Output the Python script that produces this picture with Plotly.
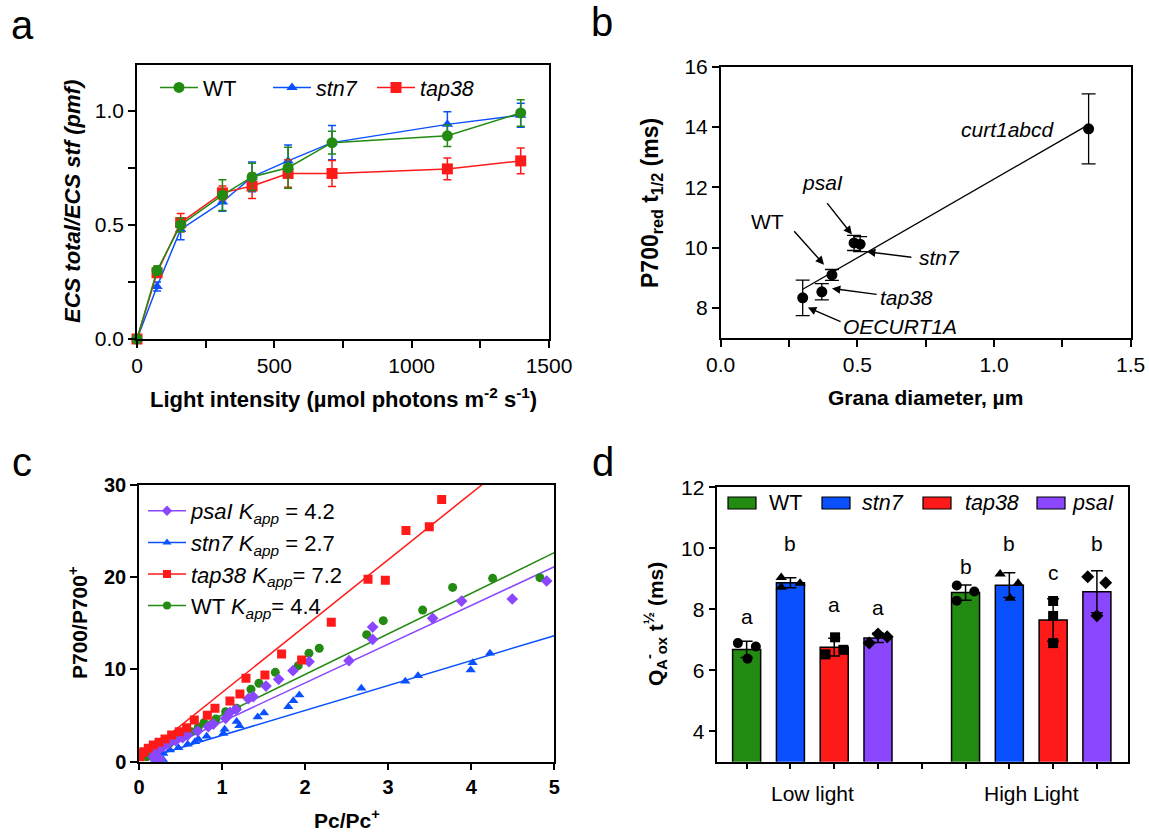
import numpy as np
import plotly.graph_objects as go

# ---------------- Panel a data ----------------
light = [0, 73, 159, 311, 419, 550, 710, 1130, 1397]
ecs_wt = [0, 0.30, 0.50, 0.63, 0.71, 0.75, 0.86, 0.89, 0.99]
ecs_wt_err = [0, 0.02, 0.03, 0.067, 0.06, 0.09, 0.05, 0.047, 0.058]
ecs_stn7 = [0, 0.23, 0.48, 0.60, 0.71, 0.78, 0.86, 0.94, 0.98]
ecs_stn7_err = [0, 0.02, 0.045, 0.04, 0.065, 0.07, 0.075, 0.055, 0.053]
ecs_tap38 = [0, 0.29, 0.51, 0.64, 0.67, 0.725, 0.725, 0.745, 0.78]
ecs_tap38_err = [0, 0.02, 0.04, 0.03, 0.055, 0.06, 0.057, 0.048, 0.056]

# ---------------- Panel b data ----------------
b_names = ["OECURT1A", "tap38", "WT", "psaI", "stn7", "curt1abcd"]
grana_diam = [0.30, 0.37, 0.407, 0.488, 0.51, 1.346]
p700_thalf = [8.34, 8.54, 9.10, 10.16, 10.12, 13.94]
p700_thalf_err = [0.59, 0.27, 0.18, 0.25, 0.25, 1.16]

# ---------------- Panel c data ----------------
tap38_pc = [0.012, 0.032, 0.06, 0.112, 0.172, 0.241, 0.313, 0.393, 0.485, 0.574, 0.666, 0.822,
            0.915, 1.095, 1.215, 1.288, 1.516, 1.717, 1.958, 2.315, 2.757, 2.966, 3.214, 3.495, 3.644]
tap38_p700 = [0.54, 0.98, 1.08, 1.45, 1.81, 2.10, 2.46, 2.90, 3.25, 3.69, 4.52, 5.03,
              5.79, 6.58, 7.34, 9.04, 9.40, 11.68, 11.03, 15.11, 19.77, 19.66, 25.08, 25.48, 28.44]
wt_pc = [0.093, 0.144, 0.213, 0.281, 0.365, 0.445, 0.533, 0.626, 0.714, 0.782, 0.927, 1.043,
         1.175, 1.348, 1.444, 1.641, 1.917, 2.046, 2.17, 2.741, 2.941, 3.415, 3.776, 4.258, 4.827]
wt_p700 = [0.54, 0.91, 1.27, 1.63, 2.0, 2.46, 2.82, 3.25, 3.73, 4.23, 4.63, 5.42,
           5.79, 7.85, 8.50, 9.69, 10.41, 11.76, 12.3, 13.77, 15.29, 16.44, 18.90, 19.88, 19.95]
psai_pc = [0.253, 0.193, 0.173, 0.193, 0.233, 0.293, 0.353, 0.441, 0.526, 0.586, 0.706, 0.835,
           0.895, 1.043, 1.096, 1.168, 1.316, 1.376, 1.529, 1.681, 1.854, 2.047, 2.528, 2.813,
           2.813, 3.535, 3.884, 4.494, 4.908]
psai_p700 = [0.25, 0.25, 0.54, 0.90, 1.26, 1.63, 1.99, 2.28, 2.60, 2.89, 3.32, 3.79,
             4.08, 4.70, 5.35, 5.67, 6.83, 7.05, 8.20, 8.93, 9.87, 10.84, 10.95, 13.26,
             14.60, 15.54, 17.42, 17.64, 19.59]
stn7_pc = [0.293, 0.193, 0.253, 0.293, 0.373, 0.474, 0.586, 0.674, 0.714, 0.815, 1.015, 1.031,
           1.176, 1.208, 1.429, 1.505, 1.798, 1.858, 1.930, 2.677, 3.206, 3.359, 3.993, 4.017, 4.226]
stn7_p700 = [0.18, 0.25, 0.47, 0.90, 1.26, 1.52, 1.88, 2.17, 2.46, 2.75, 3.07, 3.51,
             4.37, 3.90, 4.84, 5.28, 5.96, 6.61, 7.23, 7.95, 8.71, 9.32, 9.94, 10.73, 11.75]
kapp_labels = ["4.2", "2.7", "7.2", "4.4"]          # psaI, stn7, tap38, WT
fit_slope = [4.2, 2.7, 7.2, 4.4]
fit_intercept = [0.14, 0.16, 0.30, 0.66]

# ---------------- Panel d data ----------------
light_groups = ["Low light", "High Light"]
genotypes = ["WT", "stn7", "tap38", "psaI"]
qa_low = {"WT": [6.89, 6.38, 6.78], "stn7": [9.04, 8.72, 8.85],
          "tap38": [7.08, 6.52, 6.67], "psaI": [6.89, 7.19, 7.10]}
qa_high = {"WT": [8.78, 8.28, 8.58], "stn7": [9.16, 8.85, 8.36],
           "tap38": [8.27, 7.78, 6.89], "psaI": [9.07, 8.87, 7.79]}
sig_low = ["a", "b", "a", "a"]
sig_high = ["b", "b", "c", "b"]

# ---------------- styles ----------------
W, H = 1149, 834
FONT = "Liberation Sans, Arial, Helvetica, sans-serif"
GREEN = "#238A12"
BLUE = "#0A50FF"
RED = "#FF1A1A"
PURPLE = "#8A47FF"
FS = 21

def px(xp):
    return xp / W

def py(yp):
    return 1 - yp / H

fig = go.Figure()

# ---- panel a traces ----
series_a = [
    ("<i>stn7</i>", ecs_stn7, ecs_stn7_err, BLUE, "triangle-up", 2, 10, 51),
    ("<i>tap38</i>", ecs_tap38, ecs_tap38_err, RED, "square", 3, 11, None),
    ("WT", ecs_wt, ecs_wt_err, GREEN, "circle", 1, 11, 60),
]
for name, yv, ev, col, sym, rank, msz, lw in series_a:
    fig.add_trace(go.Scatter(
        x=light, y=yv, mode="lines+markers", name=name,
        line=dict(color=col, width=1.5),
        marker=dict(symbol=sym, size=msz, color=col),
        error_y=dict(type="data", array=ev, color=col, thickness=1.5, width=4),
        xaxis="x", yaxis="y", legend="legend", legendrank=rank, legendwidth=lw,
        cliponaxis=False))

# ---- panel b traces ----
coef = np.polyfit(grana_diam, p700_thalf, 1)
fx = np.array([min(grana_diam), max(grana_diam)])
fig.add_trace(go.Scatter(x=fx, y=np.polyval(coef, fx), mode="lines",
                         line=dict(color="black", width=1.3), showlegend=False,
                         xaxis="x2", yaxis="y2"))
fig.add_trace(go.Scatter(x=grana_diam, y=p700_thalf, mode="markers",
                         marker=dict(color="black", size=11),
                         error_y=dict(type="data", array=p700_thalf_err, color="black",
                                      thickness=1.3, width=7),
                         showlegend=False, xaxis="x2", yaxis="y2", cliponaxis=False))

# ---- panel c traces ----
series_c = [
    ("psaI", psai_pc, psai_p700, PURPLE, "diamond", 0),
    ("stn7", stn7_pc, stn7_p700, BLUE, "triangle-up", 1),
    ("tap38", tap38_pc, tap38_p700, RED, "square", 2),
    ("WT", wt_pc, wt_p700, GREEN, "circle", 3),
]
draw_order = [1, 3, 0, 2]
for i in draw_order:
    nm, xv, yv, col, sym, k = series_c[i]
    xl = np.array([min(xv), 5.0])
    fig.add_trace(go.Scatter(x=xl, y=fit_slope[k] * xl + fit_intercept[k], mode="lines",
                             line=dict(color=col, width=1.5), showlegend=False,
                             xaxis="x3", yaxis="y3"))
for i in draw_order:
    nm, xv, yv, col, sym, k = series_c[i]
    fig.add_trace(go.Scatter(x=xv, y=yv, mode="markers",
                             marker=dict(symbol=sym, size=9, color=col),
                             showlegend=False, xaxis="x3", yaxis="y3"))
for nm, xv, yv, col, sym, k in series_c:
    label_name = nm if nm == "WT" else "<i>%s</i>" % nm
    eq = " = " if nm in ("psaI", "stn7") else "= "
    fig.add_trace(go.Scatter(
        x=[None], y=[None], mode="lines+markers",
        name="%s <i>K</i><sub><i>app</i></sub>%s%s" % (label_name, eq, kapp_labels[k]),
        line=dict(color=col, width=1.5), marker=dict(symbol=sym, size=8, color=col),
        xaxis="x3", yaxis="y3", legend="legend2", legendrank=k + 1))

# ---- panel d traces ----
geno_colors = {"WT": GREEN, "stn7": BLUE, "tap38": RED, "psaI": PURPLE}
geno_symbols = {"WT": "circle", "stn7": "triangle-up", "tap38": "square", "psaI": "diamond"}
jitter = {("Low light", "WT"): [-0.20, 0.02, 0.21], ("Low light", "stn7"): [-0.21, -0.21, 0.22],
          ("Low light", "tap38"): [0.02, -0.20, 0.21], ("Low light", "psaI"): [-0.20, 0.0, 0.21],
          ("High Light", "WT"): [-0.20, -0.20, 0.20], ("High Light", "stn7"): [-0.21, 0.20, 0.02],
          ("High Light", "tap38"): [0.0, 0.0, 0.0], ("High Light", "psaI"): [-0.21, 0.20, 0.0]}
group_data = {"Low light": qa_low, "High Light": qa_high}
for gi, geno in enumerate(genotypes):
    xs, means, sds = [], [], []
    for gj, grp in enumerate(light_groups):
        vals = np.array(group_data[grp][geno])
        xs.append(gj * 5 + gi)
        means.append(vals.mean())
        sds.append(vals.std(ddof=1))
    fig.add_trace(go.Bar(
        x=xs, y=means, width=0.64, name=geno if geno == "WT" else "<i>%s</i>" % geno,
        marker=dict(color=geno_colors[geno], line=dict(color="black", width=1.5)),
        error_y=dict(type="data", array=sds, color="black", thickness=1.5, width=6),
        xaxis="x4", yaxis="y4", showlegend=False))
for gi, geno in enumerate(genotypes):
    for gj, grp in enumerate(light_groups):
        vals = group_data[grp][geno]
        xpts = [gj * 5 + gi + j for j in jitter[(grp, geno)]]
        fig.add_trace(go.Scatter(
            x=xpts, y=vals, mode="markers",
            marker=dict(symbol=geno_symbols[geno], size=10, color="black"),
            showlegend=False, xaxis="x4", yaxis="y4", cliponaxis=False))

# ---------------- layout ----------------
axis_common = dict(showline=True, linecolor="black", linewidth=1.5, mirror=True,
                   ticks="outside", ticklen=7, tickwidth=1.5, tickcolor="black",
                   showgrid=False, zeroline=False,
                   tickfont=dict(family=FONT, size=FS, color="black"))
minor_common = dict(ticks="outside", ticklen=7, tickwidth=1.5, tickcolor="black", showgrid=False)
bold_ticks = dict(family=FONT, size=FS - 1, color="black", weight="bold")

fig.update_layout(
    width=W, height=H, margin=dict(l=0, r=0, t=0, b=0, autoexpand=False),
    paper_bgcolor="white", plot_bgcolor="white",
    font=dict(family=FONT, size=FS, color="black"),
    barmode="overlay",
    xaxis=dict(domain=[px(137), px(549)], anchor="y", range=[0, 1500],
               tickvals=[0, 500, 1000, 1500], minor=dict(dtick=250, tick0=0, **minor_common),
               **axis_common),
    yaxis=dict(domain=[py(339), py(65)], anchor="x", range=[0, 1.2],
               tickvals=[0, 0.5, 1.0], tickformat=".1f",
               minor=dict(dtick=0.25, tick0=0, **minor_common), **axis_common),
    xaxis2=dict(domain=[px(720.7), px(1130.7)], anchor="y2", range=[0, 1.5],
                tickvals=[0, 0.5, 1.0, 1.5], tickformat=".1f",
                minor=dict(dtick=0.25, tick0=0, **minor_common), **axis_common),
    yaxis2=dict(domain=[py(338.3), py(66.7)], anchor="x2", range=[7, 16],
                tickvals=[8, 10, 12, 14, 16], **axis_common),
    xaxis3=dict(domain=[px(139), px(554.3)], anchor="y3", range=[0, 5],
                tickvals=[0, 1, 2, 3, 4, 5], **{**axis_common, "tickfont": bold_ticks}),
    yaxis3=dict(domain=[py(761.7), py(485)], anchor="x3", range=[0, 30],
                tickvals=[0, 10, 20, 30], **{**axis_common, "tickfont": bold_ticks}),
    xaxis4=dict(domain=[px(717.3), px(1128)], anchor="y4", range=[-0.67, 8.71],
                tickvals=list(range(9)), showticklabels=False,
                **{**axis_common, "ticklen": 6}),
    yaxis4=dict(domain=[py(761.7), py(487.3)], anchor="x4", range=[3, 12],
                tickvals=[4, 6, 8, 10, 12], **axis_common),
    legend=dict(orientation="h", x=px(155), y=py(67), xanchor="left", yanchor="top",
                bgcolor="rgba(0,0,0,0)", font=dict(family=FONT, size=21.5, color="black"),
                itemsizing="trace", itemwidth=38),
    legend2=dict(orientation="v", x=px(143), y=py(490), xanchor="left", yanchor="top",
                 bgcolor="rgba(0,0,0,0)", font=dict(family=FONT, size=22, color="black"),
                 tracegroupgap=0, itemwidth=38),
)

ann = []
shapes = []
def add_text(text, x, y, size=FS, angle=0, xref="paper", yref="paper", xanchor="center",
             yanchor="middle"):
    ann.append(dict(text=text, x=x, y=y, xref=xref, yref=yref, showarrow=False,
                    textangle=angle, font=dict(family=FONT, size=size, color="black"),
                    xanchor=xanchor, yanchor=yanchor))

# panel letters
add_text("a", px(22), py(25), size=40)
add_text("b", px(602), py(22), size=40)
add_text("c", px(22), py(462), size=40)
add_text("d", px(603), py(462), size=40)

# axis titles
add_text("<b><i>ECS total/ECS stf (pmf)</i></b>", px(72), py(202), size=22, angle=-90)
add_text("<b>Light intensity (µmol photons m<sup>-2</sup> s<sup>-1</sup>)</b>", px(343), py(398),
         size=22)
add_text("<b>P700<sub>red</sub> t<sub>1/2</sub> (ms)</b>", px(651), py(203), size=23, angle=-90)
add_text("<b>Grana diameter, µm</b>", px(925), py(398))
add_text("<b>P700/P700<sup>+</sup></b>", px(78), py(623), angle=-90)
add_text("<b>Pc/Pc<sup>+</sup></b>", px(347), py(819))
add_text("<b>Q<sub>A</sub><sup>-</sup><sub>ox</sub> t<sup>½</sup> (ms)</b>", px(655), py(624), angle=-90)

# panel d legend (wide swatches as in the reference)
legend_d_pos = [(728, 767), (822, 860), (923, 963), (1037, 1070)]
for geno, (sx, tx) in zip(genotypes, legend_d_pos):
    shapes.append(dict(type="rect", xref="paper", yref="paper",
                       x0=px(sx), x1=px(sx + 28), y0=py(509), y1=py(497),
                       fillcolor=geno_colors[geno], line=dict(color="black", width=1.2)))
    add_text(geno if geno == "WT" else "<i>%s</i>" % geno, px(tx), py(503), size=21.5,
             xanchor="left")

# panel d category labels and significance letters
for gj, grp in enumerate(light_groups):
    add_text(grp, gj * 5 + 1.5, py(793), xref="x4")
letter_y = {"Low light": [7.75, 10.16, 8.14, 8.05], "High Light": [9.39, 10.16, 9.2, 10.16]}
for gj, (grp, sig) in enumerate(zip(light_groups, [sig_low, sig_high])):
    for gi, s in enumerate(sig):
        add_text(s, gj * 5 + gi, letter_y[grp][gi], xref="x4", yref="y4")

# panel b labels and arrows
b_label_pos = {"curt1abcd": (1.05, 13.93), "psaI": (0.374, 12.16), "WT": (0.173, 10.87),
               "stn7": (0.802, 9.68), "tap38": (0.681, 8.36), "OECURT1A": (0.656, 7.40)}
b_arrows = {"psaI": ((0.48, 10.44), (0.385, 11.53)), "WT": ((0.378, 9.44), (0.264, 10.6)),
            "stn7": ((0.535, 9.87), (0.703, 9.68)), "tap38": ((0.407, 8.65), (0.576, 8.45)),
            "OECURT1A": ((0.319, 8.02), (0.444, 7.53))}
for nm in b_names:
    tx, ty = b_label_pos[nm]
    add_text(nm if nm == "WT" else "<i>%s</i>" % nm, tx, ty, xref="x2", yref="y2")
for nm, (head, tail) in b_arrows.items():
    ann.append(dict(text="", x=head[0], y=head[1], ax=tail[0], ay=tail[1],
                    xref="x2", yref="y2", axref="x2", ayref="y2", showarrow=True,
                    arrowhead=2, arrowsize=1.2, arrowwidth=1.4, arrowcolor="black"))

fig.update_layout(annotations=ann, shapes=shapes)
fig.write_html("out.html")
